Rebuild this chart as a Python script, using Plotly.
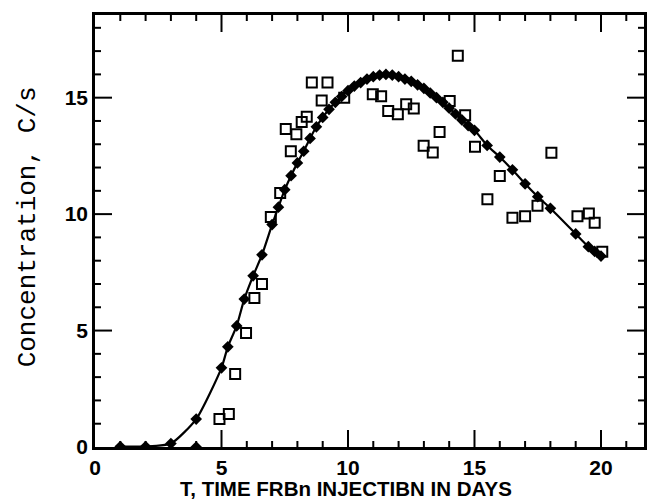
import plotly.graph_objects as go

# Model curve (filled diamonds + line)
model_days = [1, 2, 3, 4, 5, 5.25, 5.6, 5.9, 6.25, 6.6, 7.0, 7.25, 7.5, 7.75, 8.0, 8.25,
              8.5, 8.75, 9.0, 9.25, 9.5, 9.75, 10.0, 10.25, 10.5, 10.75, 11.0, 11.25,
              11.5, 11.75, 12.0, 12.25, 12.5, 12.75, 13.0, 13.25, 13.5, 13.75, 14.0,
              14.25, 14.5, 14.75, 15.0, 15.5, 16.0, 16.5, 17.0, 17.5, 18.0, 19.0, 19.5,
              19.75, 20.0]
model_conc = [0.02, 0.02, 0.15, 1.2, 3.4, 4.3, 5.2, 6.35, 7.35, 8.25, 9.55, 10.3, 11.05,
              11.65, 12.2, 12.7, 13.25, 13.75, 14.15, 14.5, 14.8, 15.05, 15.3, 15.5, 15.65,
              15.8, 15.9, 15.97, 16.0, 15.97, 15.9, 15.8, 15.7, 15.55, 15.4, 15.2, 15.0,
              14.8, 14.55, 14.3, 14.05, 13.8, 13.6, 12.95, 12.45, 11.9, 11.3, 10.75, 10.25,
              9.15, 8.6, 8.4, 8.2]

# Points lying on the baseline
base_days = [4]
base_conc = [0]

# Observed data (open squares)
obs_days = [4.92, 5.29, 5.54, 5.97, 6.3, 6.6, 6.95, 7.32, 7.54, 7.74, 7.96, 8.17, 8.37,
            8.57, 8.96, 9.19, 9.85, 10.98, 11.31, 11.59, 11.97, 12.3, 12.6, 12.99, 13.35,
            13.62, 14.02, 14.34, 14.63, 15.02, 15.51, 16.0, 16.5, 17.0, 17.49, 18.04,
            19.07, 19.52, 19.75, 20.05]
obs_conc = [1.2, 1.42, 3.13, 4.9, 6.4, 7.0, 9.88, 10.91, 13.65, 12.7, 13.43, 13.96, 14.18,
            15.65, 14.88, 15.65, 15.0, 15.15, 15.06, 14.43, 14.29, 14.72, 14.54, 12.94,
            12.65, 13.53, 14.86, 16.8, 14.25, 12.89, 10.64, 11.64, 9.84, 9.91, 10.36,
            12.64, 9.91, 10.03, 9.63, 8.38]

# Axis ticks
x_major = [0, 5, 10, 15, 20]
x_minor = [1, 2, 3, 4, 6, 7, 8, 9, 11, 12, 13, 14, 16, 17, 18, 19, 21]
y_major = [0, 5, 10, 15]
y_minor = [1, 2, 3, 4, 6, 7, 8, 9, 11, 12, 13, 14, 16, 17, 18]

x_range = [0, 21.7]
y_range = [0, 18.55]

fig = go.Figure()
fig.add_trace(go.Scatter(
    x=model_days, y=model_conc, mode="lines+markers",
    line=dict(color="black", width=2.2, shape="spline", smoothing=0.6),
    marker=dict(symbol="diamond", size=9, color="black"),
    showlegend=False))
fig.add_trace(go.Scatter(
    x=base_days, y=base_conc, mode="markers",
    marker=dict(symbol="diamond", size=9, color="black"),
    showlegend=False))
fig.add_trace(go.Scatter(
    x=obs_days, y=obs_conc, mode="markers",
    marker=dict(symbol="square-open", size=10, color="black", line=dict(width=2)),
    showlegend=False))

# Inward tick marks on all four sides, drawn as pixel-sized shapes anchored to the frame
MAJOR_LEN = 17
MINOR_LEN = 6
tick_line = dict(color="black", width=2)
shapes = []
for vals, length in ((x_major, MAJOR_LEN), (x_minor, MINOR_LEN)):
    for v in vals:
        if v == 0:
            continue
        # bottom edge, pointing up
        shapes.append(dict(type="line", xref="x", yref="paper", ysizemode="pixel",
                           yanchor=0, x0=v, x1=v, y0=0, y1=length, line=tick_line,
                           layer="above"))
        # top edge, pointing down
        shapes.append(dict(type="line", xref="x", yref="paper", ysizemode="pixel",
                           yanchor=1, x0=v, x1=v, y0=0, y1=-length, line=tick_line,
                           layer="above"))
for vals, length in ((y_major, MAJOR_LEN), (y_minor, MINOR_LEN)):
    for v in vals:
        if v == 0:
            continue
        # left edge, pointing right
        shapes.append(dict(type="line", xref="paper", yref="y", xsizemode="pixel",
                           xanchor=0, x0=0, x1=length, y0=v, y1=v, line=tick_line,
                           layer="above"))
        # right edge, pointing left
        shapes.append(dict(type="line", xref="paper", yref="y", xsizemode="pixel",
                           xanchor=1, x0=0, x1=-length, y0=v, y1=v, line=tick_line,
                           layer="above"))

label_font = dict(family="Liberation Sans Narrow, Liberation Sans", size=21,
                  color="black", weight="bold")
axis_style = dict(showgrid=False, zeroline=False, showline=True, linecolor="black",
                  linewidth=2.5, mirror=True, ticks="", tickfont=label_font)

fig.update_layout(
    width=647, height=501,
    margin=dict(l=95, r=0, t=15, b=54),
    paper_bgcolor="white", plot_bgcolor="white",
    xaxis=dict(range=x_range, tickvals=x_major, ticktext=[str(v) for v in x_major],
               **axis_style),
    yaxis=dict(range=y_range, tickvals=y_major, ticktext=[str(v) for v in y_major],
               **axis_style),
    shapes=shapes,
    annotations=[
        dict(text="T, TIME FRBn INJECTIBN IN DAYS", xref="paper", yref="paper",
             x=(347 - 95) / 552, y=-0.097, xanchor="center", yanchor="middle",
             showarrow=False,
             font=dict(family="Liberation Sans", size=20.5, color="black",
                       weight="bold")),
        dict(text="Concentration, C/s", xref="paper", yref="paper",
             x=(28 - 95) / 552, y=(447 - 227) / 432, xanchor="center", yanchor="middle",
             textangle=-90, showarrow=False,
             font=dict(family="Liberation Mono", size=26, color="black")),
    ],
)

fig.write_html("out.html")
